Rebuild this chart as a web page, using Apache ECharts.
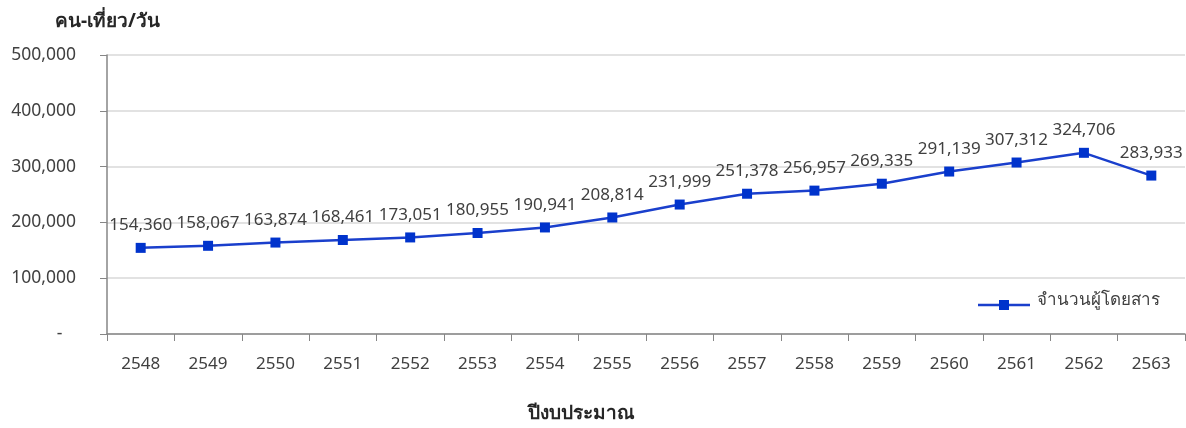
<!DOCTYPE html>
<html><head><meta charset="utf-8">
<script src="https://cdn.jsdelivr.net/npm/echarts@6/dist/echarts.min.js"></script>
<style>html,body{margin:0;padding:0;background:#fff}#c{width:1186px;height:428px}</style>
</head><body><div id="c"></div>
<script>
const categories = ['2548','2549','2550','2551','2552','2553','2554','2555','2556','2557','2558','2559','2560','2561','2562','2563'];
const passengers = [154360,158067,163874,168461,173051,180955,190941,208814,231999,251378,256957,269335,291139,307312,324706,283933];
const seriesName = 'จำนวนผู้โดยสาร';
const yTitle = 'คน-เที่ยว/วัน';
const xTitle = 'ปีงบประมาณ';
const FONT = '"Noto Sans", "DejaVu Sans", sans-serif';
const TXT = '#404040';
const fmt = v => v === 0 ? '-' : v.toLocaleString('en-US');
const chart = echarts.init(document.getElementById('c'));
chart.setOption({
  animation:false,
  textStyle:{fontFamily:FONT},
  grid:{left:107,right:1,top:55,bottom:94,containLabel:false},
  xAxis:{type:'category',data:categories,boundaryGap:true,
    axisLine:{lineStyle:{color:'#868686',width:1.5}},
    axisTick:{show:true,length:7,lineStyle:{color:'#868686'}},
    axisLabel:{fontSize:17,color:TXT,margin:22}},
  yAxis:{type:'value',min:0,max:500000,interval:100000,
    axisLine:{show:true,lineStyle:{color:'#868686',width:1.5}},
    axisTick:{show:true,length:7,lineStyle:{color:'#868686'}},
    splitLine:{lineStyle:{color:'#d9d9d9',width:1.5}},
    axisLabel:{fontSize:17.5,color:TXT,margin:31,formatter:v => v === 0 ? '-   ' : fmt(v)}},
  series:[{name:seriesName,type:'line',data:passengers,symbol:'rect',symbolSize:10,
    itemStyle:{color:'#0033cc'},lineStyle:{color:'#1a3fcc',width:2.5},
    label:{show:true,position:'top',distance:9,fontSize:17,color:TXT,formatter:p=>fmt(p.value)}}],
  graphic:[
    {type:'text',left:55,top:12,style:{text:yTitle,font:'bold 19px '+FONT,fill:'#262626'}},
    {type:'text',left:528,top:404,style:{text:xTitle,font:'bold 19px '+FONT,fill:'#262626'}},
    {type:'line',shape:{x1:978,y1:305,x2:1030,y2:305},style:{stroke:'#1a3fcc',lineWidth:2.5}},
    {type:'rect',shape:{x:999,y:300,width:10,height:10},style:{fill:'#0033cc'}},
    {type:'text',left:1037,top:292,style:{text:seriesName,font:'17px '+FONT,fill:TXT}}
  ]
});
</script></body></html>
